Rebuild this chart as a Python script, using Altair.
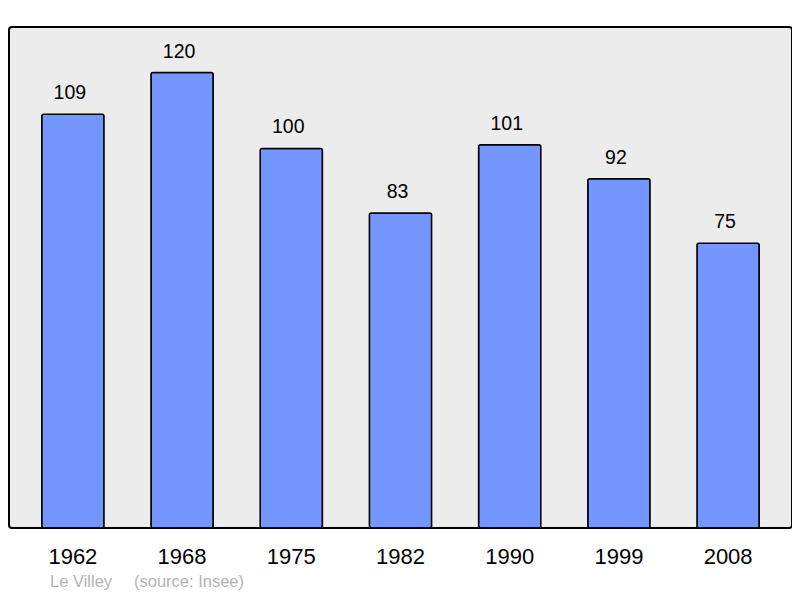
import altair as alt
import pandas as pd

years = ["1962", "1968", "1975", "1982", "1990", "1999", "2008"]
population = [109, 120, 100, 83, 101, 92, 75]
footer_place = ["Le Villey"]
footer_source = ["(source: Insee)"]

df = pd.DataFrame({"year": years, "pop": population})

FONT = "Liberation Sans"

x = alt.X("year:N", sort=years,
          scale=alt.Scale(paddingInner=0.43, paddingOuter=0.30),
          axis=alt.Axis(title=None, labelAngle=0, labelFontSize=22, labelFont=FONT,
                        labelColor="#000", labelPadding=18, ticks=False, domain=False))
y = alt.Y("pop:Q", scale=alt.Scale(domain=[0, 132], nice=False), axis=None)

bars = alt.Chart(df).mark_bar(color="#7396ff", stroke="#000", strokeWidth=1.5,
                               cornerRadius=2).encode(x=x, y=y)

labels = alt.Chart(df).mark_text(dy=-21, dx=-3, fontSize=19.5, font=FONT, color="#000").encode(
    x=x, y=y, text="pop:Q")

foot1 = alt.Chart(pd.DataFrame({"t": footer_place})).mark_text(
    align="left", baseline="alphabetic", fontSize=16.5, font=FONT, color="#b3b3b3", clip=False
).encode(x=alt.value(41), y=alt.value(560), text="t:N")

foot2 = alt.Chart(pd.DataFrame({"t": footer_source})).mark_text(
    align="left", baseline="alphabetic", fontSize=16.5, font=FONT, color="#b3b3b3", clip=False
).encode(x=alt.value(125), y=alt.value(560), text="t:N")

chart = alt.layer(bars, labels, foot1, foot2).properties(
    width=783, height=501,
    autosize=alt.AutoSizeParams(type="none"),
    padding={"left": 1, "top": 19, "right": 0, "bottom": 62},
).configure(background="white").configure_view(
    fill="#ececec", stroke="#000", strokeWidth=2, cornerRadius=3
)

chart.save("out.html", embed_options={"renderer": "svg", "actions": False})
